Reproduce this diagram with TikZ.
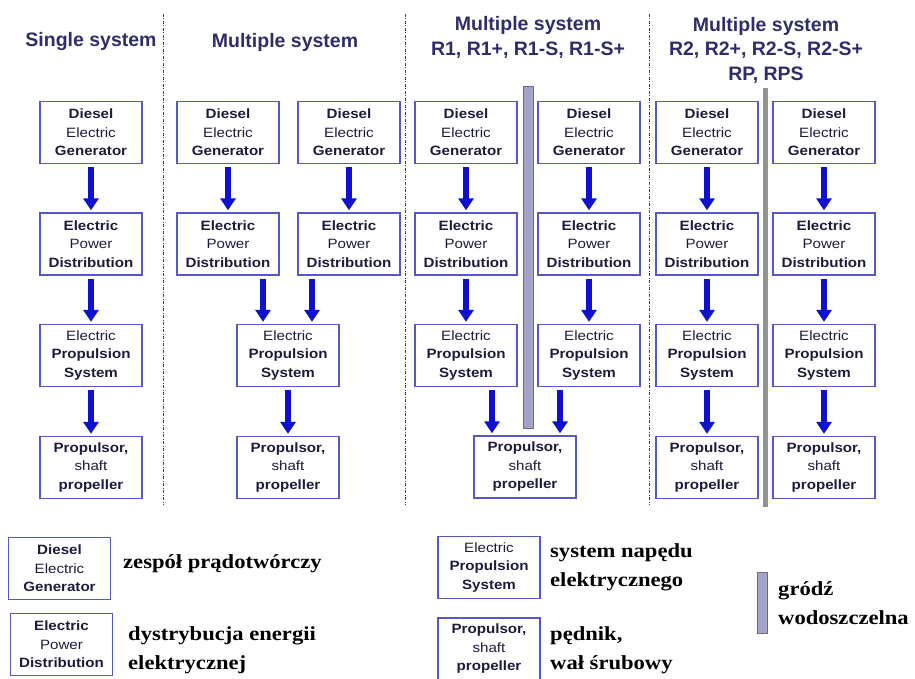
\documentclass[tikz,border=0pt]{standalone}
\usepackage{fontspec}
\usetikzlibrary{arrows.meta,calc}
\newfontfamily\boxfont[FakeStretch=1.12]{Liberation Sans}
\newfontfamily\hdrfont{Liberation Sans}
\newfontfamily\legfont[FakeStretch=1.13]{Liberation Serif}
\definecolor{hdrcol}{HTML}{2E2E6A}
\definecolor{boxtext}{HTML}{1C1C3C}
\definecolor{boxline}{HTML}{5858C4}
\definecolor{arrcol}{HTML}{1010D0}
\definecolor{wallfill}{HTML}{A4A4C8}
\definecolor{walledge}{HTML}{6A6A80}
\definecolor{divcol}{HTML}{404040}
\tikzset{
  sysbox/.style={draw=boxline, line width=1.3pt, fill=white, minimum width=102pt,
    minimum height=62pt, inner sep=1pt, align=center, text=boxtext,
    font=\boxfont\fontsize{13.5}{18.5}\selectfont},
  fatarrow/.style={draw=arrcol, line width=5.5pt, shorten <=3pt, shorten >=2pt,
    -{Triangle[width=15pt,length=12pt]}},
  hdr/.style={text=hdrcol, align=center, font=\hdrfont\bfseries\fontsize{19.5}{24.5}\selectfont},
  divider/.style={draw=divcol, line width=0.9pt, dash pattern=on 3pt off 1.5pt on 1pt off 1.5pt},
  legtext/.style={anchor=west, align=left, text=black, inner sep=0pt,
    font=\legfont\bfseries\fontsize{20}{29}\selectfont},
}
\newcommand{\DEG}{\textbf{Diesel}\\Electric\\\textbf{Generator}}
\newcommand{\EPD}{\textbf{Electric}\\Power\\\textbf{Distribution}}
\newcommand{\EPS}{Electric\\\textbf{Propulsion}\\\textbf{System}}
\newcommand{\PSP}{\textbf{Propulsor,}\\shaft\\\textbf{propeller}}
\begin{document}
\begin{tikzpicture}[x=1pt,y=-1pt]
\useasboundingbox[fill=white] (0,0) rectangle (915,679);

% headers
\node[hdr] (h1) at (91,42) {Single system};
\node[hdr] (h2) at (285,42) {Multiple system};
\node[hdr] (h3) at (528,37.5) {Multiple system\\R1, R1+, R1-S, R1-S+};
\node[hdr] (h4) at (766,50) {Multiple system\\R2, R2+, R2-S, R2-S+\\RP, RPS};

% dividers
\draw[divider] (163,14) -- (163,505);
\draw[divider] (405,14) -- (405,505);
\draw[divider] (649,14) -- (649,505);

% watertight bulkheads
\draw[fill=wallfill, draw=walledge, line width=1pt] (523,87) rectangle (533,428);
\fill[gray!85] (763,88) rectangle (768,507);

% column 1
\node[sysbox] (a1) at (91,132.5) {\DEG};
\node[sysbox] (a2) at (91,244) {\EPD};
\node[sysbox] (a3) at (91,355.5) {\EPS};
\node[sysbox] (a4) at (91,467.5) {\PSP};
\draw[fatarrow] (a1) -- (a2);
\draw[fatarrow] (a2) -- (a3);
\draw[fatarrow] (a3) -- (a4);

% column 2
\node[sysbox] (b1) at (228,132.5) {\DEG};
\node[sysbox] (b2) at (228,244) {\EPD};
\node[sysbox] (c1) at (349,132.5) {\DEG};
\node[sysbox] (c2) at (349,244) {\EPD};
\node[sysbox] (m3) at (288,355.5) {\EPS};
\node[sysbox] (m4) at (288,467.5) {\PSP};
\draw[fatarrow] (b1) -- (b2);
\draw[fatarrow] (c1) -- (c2);
\draw[fatarrow] ([xshift=35pt]b2.south) -- ([xshift=35pt]b2.south |- m3.north);
\draw[fatarrow] ([xshift=-37pt]c2.south) -- ([xshift=-37pt]c2.south |- m3.north);
\draw[fatarrow] (m3) -- (m4);

% column 3
\node[sysbox] (d1) at (466,132.5) {\DEG};
\node[sysbox] (d2) at (466,244) {\EPD};
\node[sysbox] (d3) at (466,355.5) {\EPS};
\node[sysbox] (e1) at (589,132.5) {\DEG};
\node[sysbox] (e2) at (589,244) {\EPD};
\node[sysbox] (e3) at (589,355.5) {\EPS};
\node[sysbox] (n4) at (525,467) {\PSP};
\draw[fatarrow] (d1) -- (d2);
\draw[fatarrow] (d2) -- (d3);
\draw[fatarrow] (e1) -- (e2);
\draw[fatarrow] (e2) -- (e3);
\draw[fatarrow] ([xshift=26pt]d3.south) -- ([xshift=26pt]d3.south |- n4.north);
\draw[fatarrow] ([xshift=-29pt]e3.south) -- ([xshift=-29pt]e3.south |- n4.north);

% column 4
\node[sysbox] (f1) at (707,132.5) {\DEG};
\node[sysbox] (f2) at (707,244) {\EPD};
\node[sysbox] (f3) at (707,355.5) {\EPS};
\node[sysbox] (f4) at (707,467.5) {\PSP};
\node[sysbox] (g1) at (824,132.5) {\DEG};
\node[sysbox] (g2) at (824,244) {\EPD};
\node[sysbox] (g3) at (824,355.5) {\EPS};
\node[sysbox] (g4) at (824,467.5) {\PSP};
\draw[fatarrow] (f1) -- (f2);
\draw[fatarrow] (f2) -- (f3);
\draw[fatarrow] (f3) -- (f4);
\draw[fatarrow] (g1) -- (g2);
\draw[fatarrow] (g2) -- (g3);
\draw[fatarrow] (g3) -- (g4);

% legend
\node[sysbox] (l1) at (59.5,568.5) {\DEG};
\node[legtext] (t1) at (123,564) {zespół prądotwórczy};
\node[sysbox] (l2) at (61.5,644.5) {\EPD};
\node[legtext] (t2) at (128,650) {dystrybucja energii\\elektrycznej};
\node[sysbox] (l3) at (489,567.5) {\EPS};
\node[legtext] (t3) at (550,567.5) {system napędu\\elektrycznego};
\node[sysbox] (l4) at (489,649) {\PSP};
\node[legtext] (t4) at (550,650) {pędnik,\\wał śrubowy};
\draw[fill=wallfill, draw=walledge, line width=1pt] (757,572) rectangle (767,633);
\node[legtext] (t5) at (778,603.5) {gródź\\wodoszczelna};
\end{tikzpicture}
\end{document}
